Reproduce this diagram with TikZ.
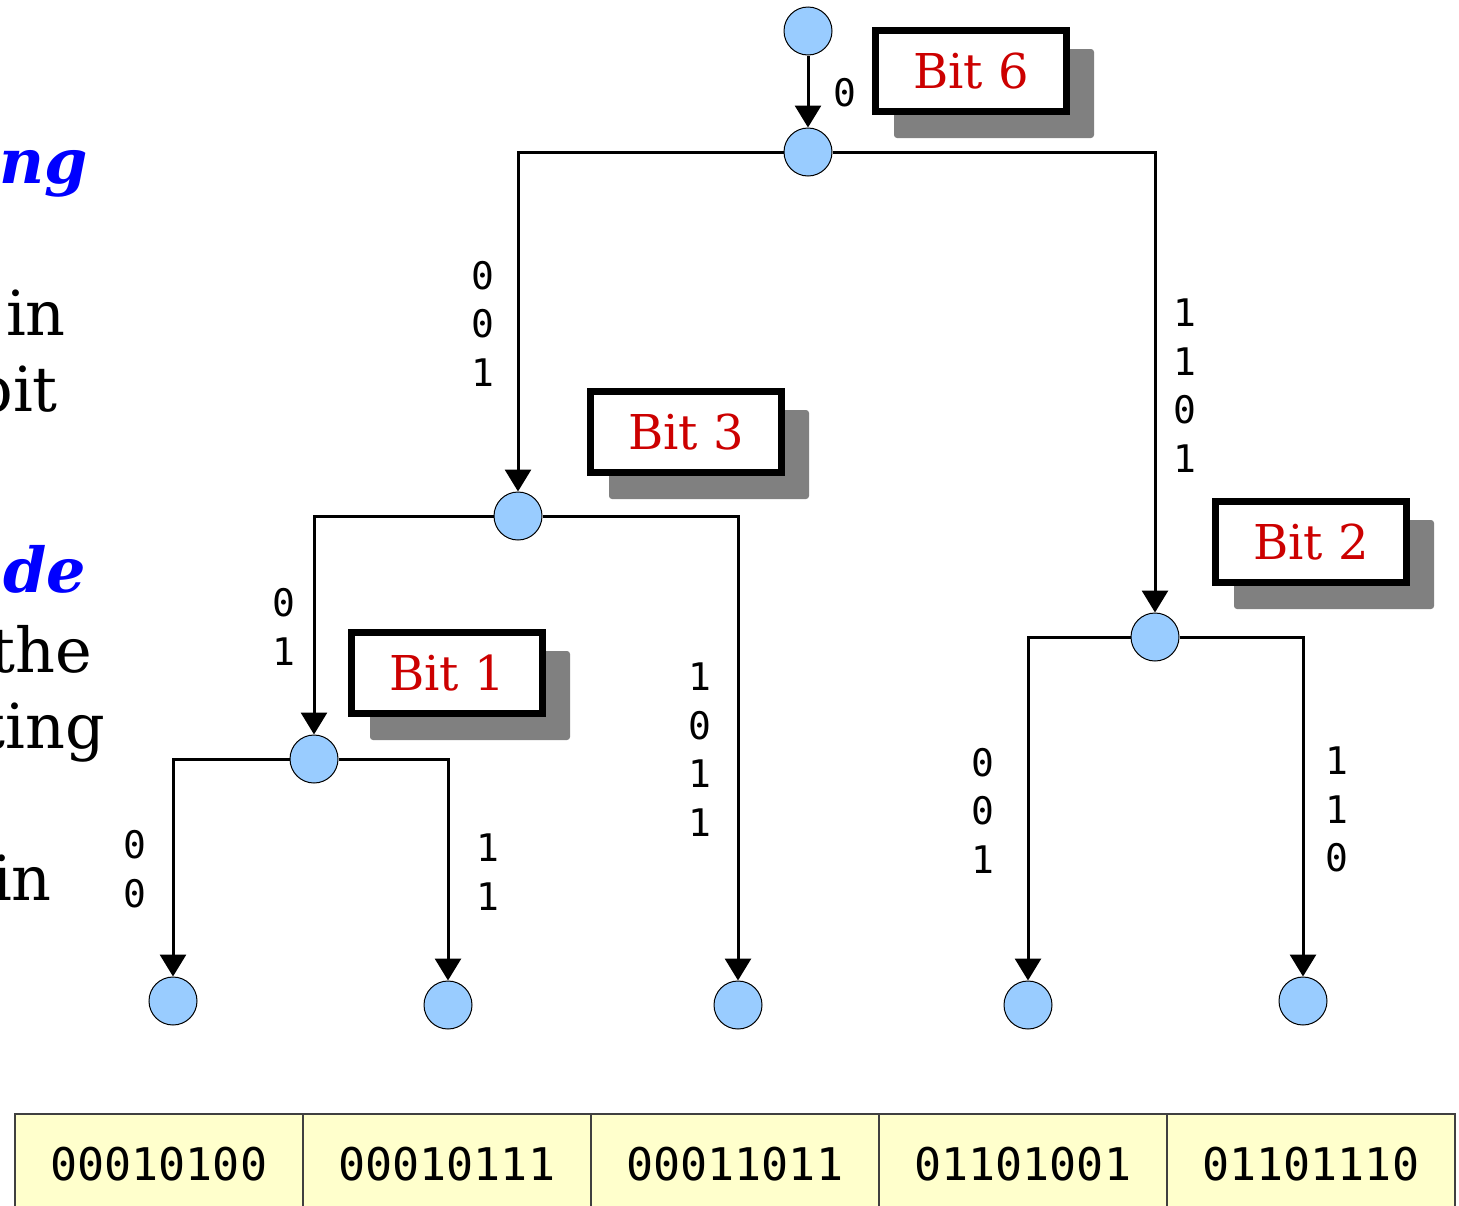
\documentclass[tikz,border=0pt]{standalone}
\usepackage{fontspec}
\setmainfont{DejaVu Serif}
\newfontfamily\monof{DejaVu Sans Mono}
\usetikzlibrary{arrows.meta,backgrounds}
\definecolor{nodeblue}{HTML}{99CCFF}
\definecolor{bitred}{HTML}{CC0000}
\definecolor{cellyellow}{HTML}{FFFFCC}
\definecolor{titleblue}{HTML}{0000FF}
\definecolor{shadowgray}{HTML}{808080}
\begin{document}
\begin{tikzpicture}[x=1pt,y=-1pt,
  vert/.style={circle,fill=nodeblue,draw=black,line width=1pt,minimum size=48pt,inner sep=0pt},
  conn/.style={line width=3pt,-{Triangle[width=26pt,length=22pt]}},
  bits/.style={font=\monof\fontsize{38}{48.5}\selectfont,align=center,inner sep=0pt},
  bitbox/.style={draw=black,line width=7pt,fill=white,minimum width=191pt,minimum height=81pt,inner sep=0pt,text=bitred,font=\fontsize{48}{58}\selectfont},
  shadowrect/.style={fill=shadowgray,rounded corners=3pt},
  side/.style={anchor=base east,inner sep=0pt,font=\fontsize{62}{76}\selectfont},
  title/.style={side,text=titleblue,font=\fontsize{62}{76}\selectfont\bfseries\itshape},
  cell/.style={draw=black!75,line width=1.5pt,fill=cellyellow,minimum width=288pt,minimum height=100pt,anchor=north west,inner sep=0pt,font=\monof\fontsize{45}{54}\selectfont}
]
\useasboundingbox (0,0) rectangle (1459,1205);
\clip (0,0) rectangle (1459,1205);

% left-hand slide text (cut off)
\node[title] (t1) at (88,183) {ng};
\node[side] (t2) at (66,335) {in};
\node[side] (t3) at (58,411) {bit};
\node[title] (t4) at (86,592) {de};
\node[side] (t5) at (92,672) {the};
\node[side] (t6) at (105,748) {ting};
\node[side] (t7) at (52,900) {in};

% tree nodes
\node[vert] (A) at (808,31) {};
\node[vert] (B) at (808,152) {};
\node[vert] (C) at (518,516) {};
\node[vert] (D) at (1155,637) {};
\node[vert] (E) at (314,759) {};
\node[vert] (L1) at (173,1001) {};
\node[vert] (L2) at (448,1005) {};
\node[vert] (L3) at (738,1005) {};
\node[vert] (L4) at (1028,1005) {};
\node[vert] (L5) at (1303,1001) {};

% connectors
\draw[conn] (A) -- (B);
\draw[conn] (B) -| (C);
\draw[conn] (B) -| (D);
\draw[conn] (C) -| (E);
\draw[conn] (C) -| (L3);
\draw[conn] (E) -| (L1);
\draw[conn] (E) -| (L2);
\draw[conn] (D) -| (L4);
\draw[conn] (D) -| (L5);

% edge labels
\node[bits] (lab0) at (845,93) {0};
\node[bits] (labBC) at (483,323.5) {0\\0\\1};
\node[bits] (labBD) at (1185,385.5) {1\\1\\0\\1};
\node[bits] (labCE) at (284,627) {0\\1};
\node[bits] (labCL) at (700,749.5) {1\\0\\1\\1};
\node[bits] (labE1) at (135,869) {0\\0};
\node[bits] (labE2) at (488,872) {1\\1};
\node[bits] (labD1) at (983,810.5) {0\\0\\1};
\node[bits] (labD2) at (1337,809.5) {1\\1\\0};

% bit boxes with shadows
\node[bitbox] (b6) at (971,71) {Bit 6};
\node[bitbox] (b3) at (686,432) {Bit 3};
\node[bitbox] (b1) at (447,673) {Bit 1};
\node[bitbox] (b2) at (1311,542) {Bit 2};
\begin{pgfonlayer}{background}
\foreach \b in {b6,b3,b1,b2}{
  \fill[shadowrect] ([shift={(22,22)}]\b.north west) rectangle ([shift={(24,23)}]\b.south east);
}
\end{pgfonlayer}

% table
\node[cell] (c1) at (14,1113) {00010100};
\node[cell] (c2) at (302,1113) {00010111};
\node[cell] (c3) at (590,1113) {00011011};
\node[cell] (c4) at (878,1113) {01101001};
\node[cell] (c5) at (1166,1113) {01101110};
\end{tikzpicture}
\end{document}
